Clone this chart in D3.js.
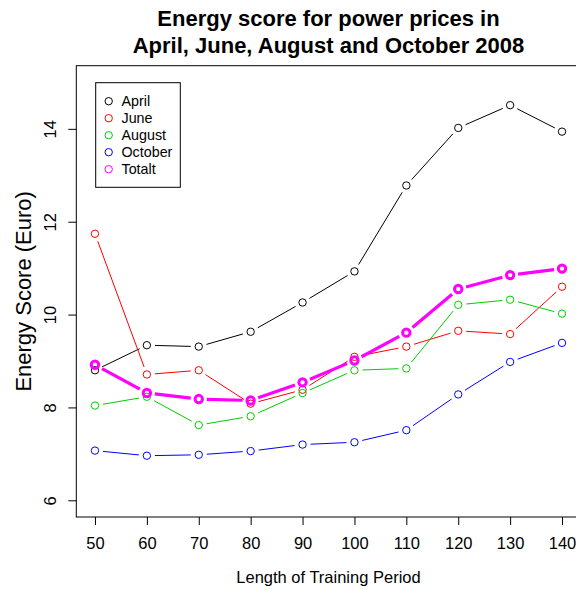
<!DOCTYPE html>
<html>
<head>
<meta charset="utf-8">
<script src="https://cdn.jsdelivr.net/npm/d3@7"></script>
<style>
  html, body { margin: 0; padding: 0; background: #fff; }
  svg { display: block; font-family: "Liberation Sans", Arial, Helvetica, sans-serif; }
</style>
</head>
<body>
<svg id="chart" width="576" height="590"></svg>
<script>
// Training period lengths (x) and energy scores per month
const periods = [50, 60, 70, 80, 90, 100, 110, 120, 130, 140];
const april   = [8.80, 9.34, 9.31, 9.63, 10.26, 10.93, 12.78, 14.02, 14.51, 13.94];
const june    = [11.74, 8.71, 8.80, 8.08, 8.38, 9.09, 9.31, 9.65, 9.58, 10.60];
const august  = [8.04, 8.23, 7.62, 7.81, 8.31, 8.80, 8.84, 10.21, 10.32, 10.02];
const october = [7.07, 6.96, 6.98, 7.06, 7.20, 7.25, 7.51, 8.28, 8.98, 9.39];
const totalt  = [8.92, 8.31, 8.18, 8.15, 8.54, 9.01, 9.61, 10.55, 10.85, 10.99];

const seriesNames  = ["April", "June", "August", "October", "Totalt"];
const seriesValues = [april, june, august, october, totalt];
const seriesColors = ["#000000", "#ff0000", "#00cd00", "#0000ff", "#ff00ff"];
const xTicks = [50, 60, 70, 80, 90, 100, 110, 120, 130, 140];
const yTicks = [6, 8, 10, 12, 14];

const titleLines = ["Energy score for power prices in", "April, June, August and October 2008"];
const xLabel = "Length of Training Period";
const yLabel = "Energy Score (Euro)";

const svg = d3.select("#chart");
const FONT = "'Liberation Sans', Arial, Helvetica, sans-serif";

// Plot region (axis limits padded by 4% on each side)
const pLeft = 76.3, pRight = 580.7, pTop = 65.7, pBottom = 517;
const x = d3.scaleLinear().domain([46.4, 143.6]).range([pLeft, pRight]);
const y = d3.scaleLinear().domain([5.64, 15.36]).range([pBottom, pTop]);

// Frame
svg.append("rect")
  .attr("x", pLeft).attr("y", pTop)
  .attr("width", pRight - pLeft).attr("height", pBottom - pTop)
  .attr("fill", "none").attr("stroke", "#000").attr("stroke-width", 1);

// X axis
const xAxis = svg.append("g")
  .attr("transform", `translate(0,${pBottom})`)
  .call(d3.axisBottom(x).tickValues(xTicks).tickSize(8).tickPadding(12).tickSizeOuter(0));
xAxis.select(".domain").remove();
xAxis.selectAll("text").attr("font-size", 16.5).attr("fill", "#000").attr("font-family", FONT);
xAxis.selectAll("line").attr("stroke", "#000");

// Y axis with labels turned parallel to the axis
const yAxis = svg.append("g")
  .attr("transform", `translate(${pLeft},0)`)
  .call(d3.axisLeft(y).tickValues(yTicks).tickSize(8).tickSizeOuter(0));
yAxis.select(".domain").remove();
yAxis.selectAll("line").attr("stroke", "#000");
yAxis.selectAll("text")
  .attr("font-size", 16.5).attr("fill", "#000").attr("font-family", FONT)
  .attr("x", null).attr("y", null).attr("dy", null)
  .attr("text-anchor", "middle")
  .attr("transform", "translate(-20,0) rotate(-90)");

// Series lines and points, segments broken around the symbols
seriesValues.forEach((vals, k) => {
  const isTotal = seriesNames[k] === "Totalt";
  const g = svg.append("g");
  const gap = 8;
  for (let i = 0; i < vals.length - 1; i++) {
    const x0 = x(periods[i]), y0 = y(vals[i]);
    const x1 = x(periods[i + 1]), y1 = y(vals[i + 1]);
    const dx = x1 - x0, dy = y1 - y0, len = Math.hypot(dx, dy);
    if (len <= 2 * gap) continue;
    const ux = dx / len, uy = dy / len;
    g.append("line")
      .attr("x1", x0 + ux * gap).attr("y1", y0 + uy * gap)
      .attr("x2", x1 - ux * gap).attr("y2", y1 - uy * gap)
      .attr("stroke", seriesColors[k])
      .attr("stroke-width", isTotal ? 3.2 : 1);
  }
  g.selectAll("circle").data(vals).join("circle")
    .attr("cx", (d, i) => x(periods[i]))
    .attr("cy", d => y(d))
    .attr("r", 3.7)
    .attr("fill", "none")
    .attr("stroke", seriesColors[k])
    .attr("stroke-width", isTotal ? 3 : 1);
});

// Legend
const lg = svg.append("g");
lg.append("rect")
  .attr("x", 95.7).attr("y", 82.7).attr("width", 84.6).attr("height", 104.6)
  .attr("fill", "#fff").attr("stroke", "#000").attr("stroke-width", 1);
seriesNames.forEach((name, k) => {
  const cy = 101.2 + k * 17;
  lg.append("circle").attr("cx", 108.7).attr("cy", cy).attr("r", 3.7)
    .attr("fill", "none").attr("stroke", seriesColors[k]).attr("stroke-width", 1);
  lg.append("text").attr("x", 121.5).attr("y", cy).attr("dy", "0.35em")
    .attr("font-size", 14.3).attr("fill", "#000").text(name);
});

// Titles
const cx = (pLeft + pRight) / 2;
svg.append("text").attr("x", cx).attr("y", 26).attr("text-anchor", "middle")
  .attr("font-size", 22).attr("font-weight", "bold").text(titleLines[0]);
svg.append("text").attr("x", cx).attr("y", 52.5).attr("text-anchor", "middle")
  .attr("font-size", 22).attr("font-weight", "bold").text(titleLines[1]);

// Axis titles
svg.append("text").attr("x", cx).attr("y", 583).attr("text-anchor", "middle")
  .attr("font-size", 16.5).text(xLabel);
svg.append("text")
  .attr("transform", `translate(31,${(pTop + pBottom) / 2}) rotate(-90)`)
  .attr("text-anchor", "middle").attr("font-size", 22).text(yLabel);
</script>
</body>
</html>
